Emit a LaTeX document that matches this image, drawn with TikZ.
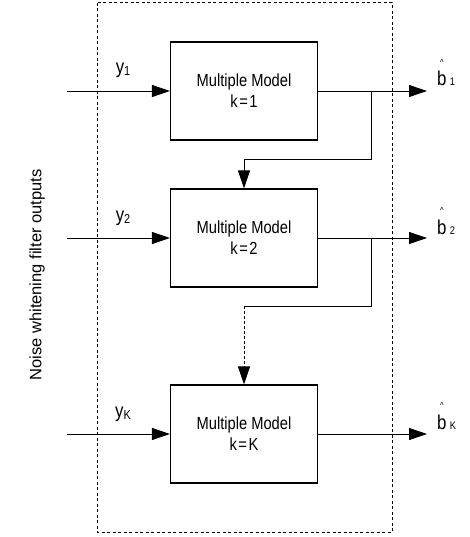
\documentclass[tikz,border=0pt]{standalone}
\usepackage{fontspec}
\setmainfont{Liberation Sans}[FakeStretch=0.84]
\newfontfamily\widefont{Liberation Sans}
\usetikzlibrary{arrows.meta}
\usetikzlibrary{positioning}
\usetikzlibrary{calc}

\newcommand{\BHat}[1]{\shortstack{{\fontsize{9}{9}\selectfont\textasciicircum}\\[3pt]b}\,{\fontsize{11}{11}\selectfont #1}}
\newcommand{\YSub}[1]{y{\fontsize{13}{13}\selectfont\raisebox{-2pt}{#1}}}

\begin{document}
\begin{tikzpicture}[x=1pt,y=-1pt]
		\useasboundingbox (0,0) rectangle (469,537);
		\tikzstyle{ModelStyle}=[draw,line width=1.1pt,minimum width=147pt,minimum height=98pt,align=center,font=\fontsize{17.5}{21}\selectfont]
		\tikzstyle{EdgeStyle}=[line width=0.9pt,-{Triangle[length=18pt,width=12pt]}]
		\tikzstyle{LabelStyle}=[inner sep=0pt,anchor=base,font=\fontsize{20}{20}\selectfont]
		\draw[line width=1pt,dash pattern=on 3pt off 2.5pt] (97,3) rectangle (392,532);
		\node[ModelStyle] (m1) at (244,91) {Multiple Model\\k{\kern1.5pt}={\kern1.5pt}1};
		\node[ModelStyle] (m2) at (244,238) {Multiple Model\\k{\kern1.5pt}={\kern1.5pt}2};
		\node[ModelStyle] (m3) at (244,434) {Multiple Model\\k{\kern1.5pt}={\kern1.5pt}K};
		\coordinate (in1) at (67,91);
		\coordinate (in2) at (67,238);
		\coordinate (in3) at (67,434);
		\coordinate (out1) at (427,91);
		\coordinate (out2) at (427,238);
		\coordinate (out3) at (427,434);
		\coordinate (br1) at (371,91);
		\coordinate (br2) at (371,238);
		\coordinate (c2) at (244,306);
		\draw[EdgeStyle] (in1) -- (m1);
		\draw[EdgeStyle] (in2) -- (m2);
		\draw[EdgeStyle] (in3) -- (m3);
		\draw[EdgeStyle] (m1) -- (out1);
		\draw[EdgeStyle] (m2) -- (out2);
		\draw[EdgeStyle] (m3) -- (out3);
		\draw[EdgeStyle] (br1) -- ++(0,68) -| (m2.north);
		\draw[line width=0.9pt] (br2) |- (c2);
		\draw[EdgeStyle,dash pattern=on 3pt off 2pt] (c2) -- (m3.north);
		\node[LabelStyle] (y1) at (123,74) {\YSub{1}};
		\node[LabelStyle] (y2) at (123,221) {\YSub{2}};
		\node[LabelStyle] (yK) at (123,417) {\YSub{K}};
		\node[LabelStyle,anchor=base west] (b1) at (437,86) {\BHat{1}};
		\node[LabelStyle,anchor=base west] (b2) at (437,234) {\BHat{2}};
		\node[LabelStyle,anchor=base west] (bK) at (437,429) {\BHat{K}};
		\node[rotate=90,font=\widefont\fontsize{16.5}{16.5}\selectfont] (noise) at (37,275) {Noise whitening filter outputs};
\end{tikzpicture}
\end{document}
